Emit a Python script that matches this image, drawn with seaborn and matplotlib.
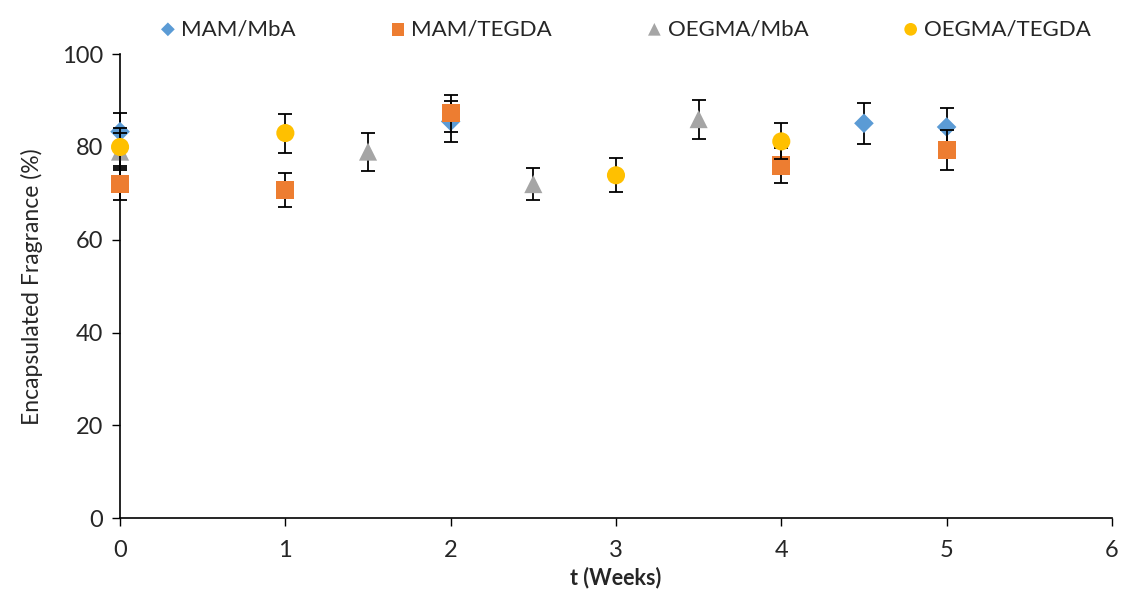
import matplotlib
matplotlib.use("Agg")
import matplotlib.pyplot as plt
import seaborn as sns
import pandas as pd

series_names = ["MAM/MbA", "MAM/TEGDA", "OEGMA/MbA", "OEGMA/TEGDA"]

mam_mba_t = [0, 2, 4.5, 5]
mam_mba_y = [83.3, 85.5, 85.1, 84.3]
mam_mba_err = [4.0, 4.5, 4.4, 4.2]

mam_tegda_t = [0, 1, 2, 4, 5]
mam_tegda_y = [72.0, 70.7, 87.3, 76.0, 79.3]
mam_tegda_err = [3.5, 3.6, 4.0, 3.8, 4.3]

oegma_mba_t = [0, 1.5, 2.5, 3.5]
oegma_mba_y = [79.0, 79.0, 72.0, 86.0]
oegma_mba_err = [4.0, 4.1, 3.5, 4.2]

oegma_tegda_t = [0, 1, 3, 4]
oegma_tegda_y = [80.0, 83.0, 73.9, 81.2]
oegma_tegda_err = [4.0, 4.2, 3.7, 3.9]

x_ticks = [0, 1, 2, 3, 4, 5, 6]
y_ticks = [0, 20, 40, 60, 80, 100]

colors = ["#5B9BD5", "#ED7D31", "#A5A5A5", "#FFC000"]
markers = ["D", "s", "^", "o"]
sizes = [100, 170, 170, 170]

all_t = [mam_mba_t, mam_tegda_t, oegma_mba_t, oegma_tegda_t]
all_y = [mam_mba_y, mam_tegda_y, oegma_mba_y, oegma_tegda_y]
all_e = [mam_mba_err, mam_tegda_err, oegma_mba_err, oegma_tegda_err]

sns.set_theme(style="white")
plt.rcParams["font.family"] = ["Lato", "DejaVu Sans"]

fig = plt.figure(figsize=(11.22, 5.95), dpi=100)
ax = fig.add_axes([0.107, 0.129, 0.884, 0.78])

for i, name in enumerate(series_names):
    df = pd.DataFrame({"t": all_t[i], "y": all_y[i]})
    eb = ax.errorbar(all_t[i], all_y[i], yerr=all_e[i], fmt="none", ecolor="black",
                     elinewidth=1.3, capsize=5, capthick=1.3, zorder=2 + i * 2)
    for art in eb.lines[1] + eb.lines[2]:
        art.set_clip_on(False)
    sns.scatterplot(data=df, x="t", y="y", ax=ax, marker=markers[i], s=sizes[i],
                    color=colors[i], edgecolor="none", label=name, zorder=3 + i * 2,
                    clip_on=False)

ax.set_xlim(0, 6)
ax.set_ylim(0, 100)
ax.set_xticks(x_ticks)
ax.set_yticks(y_ticks)
ax.tick_params(axis="both", labelsize=17, direction="out", length=6, width=1,
               color="black", bottom=True, left=True, labelcolor="#262626")
ax.tick_params(axis="x", pad=10)
ax.tick_params(axis="y", pad=6)
for s in ["top", "right"]:
    ax.spines[s].set_visible(False)
for s in ["left", "bottom"]:
    ax.spines[s].set_color("black")
    ax.spines[s].set_linewidth(1.2)

ax.set_xlabel("t (Weeks)", fontsize=15.5, fontweight="bold", labelpad=4)
ax.set_ylabel("Encapsulated Fragrance (%)", fontsize=16.5, labelpad=14)

handles, labels = ax.get_legend_handles_labels()
ax.get_legend().remove()
leg = fig.legend(handles, labels, loc="center", bbox_to_anchor=(0.555, 0.951), ncol=4,
                 frameon=False, fontsize=16, columnspacing=4.0, handletextpad=0.0,
                 markerscale=0.7, handlelength=1.2)

fig.savefig("out.png", dpi=100)
